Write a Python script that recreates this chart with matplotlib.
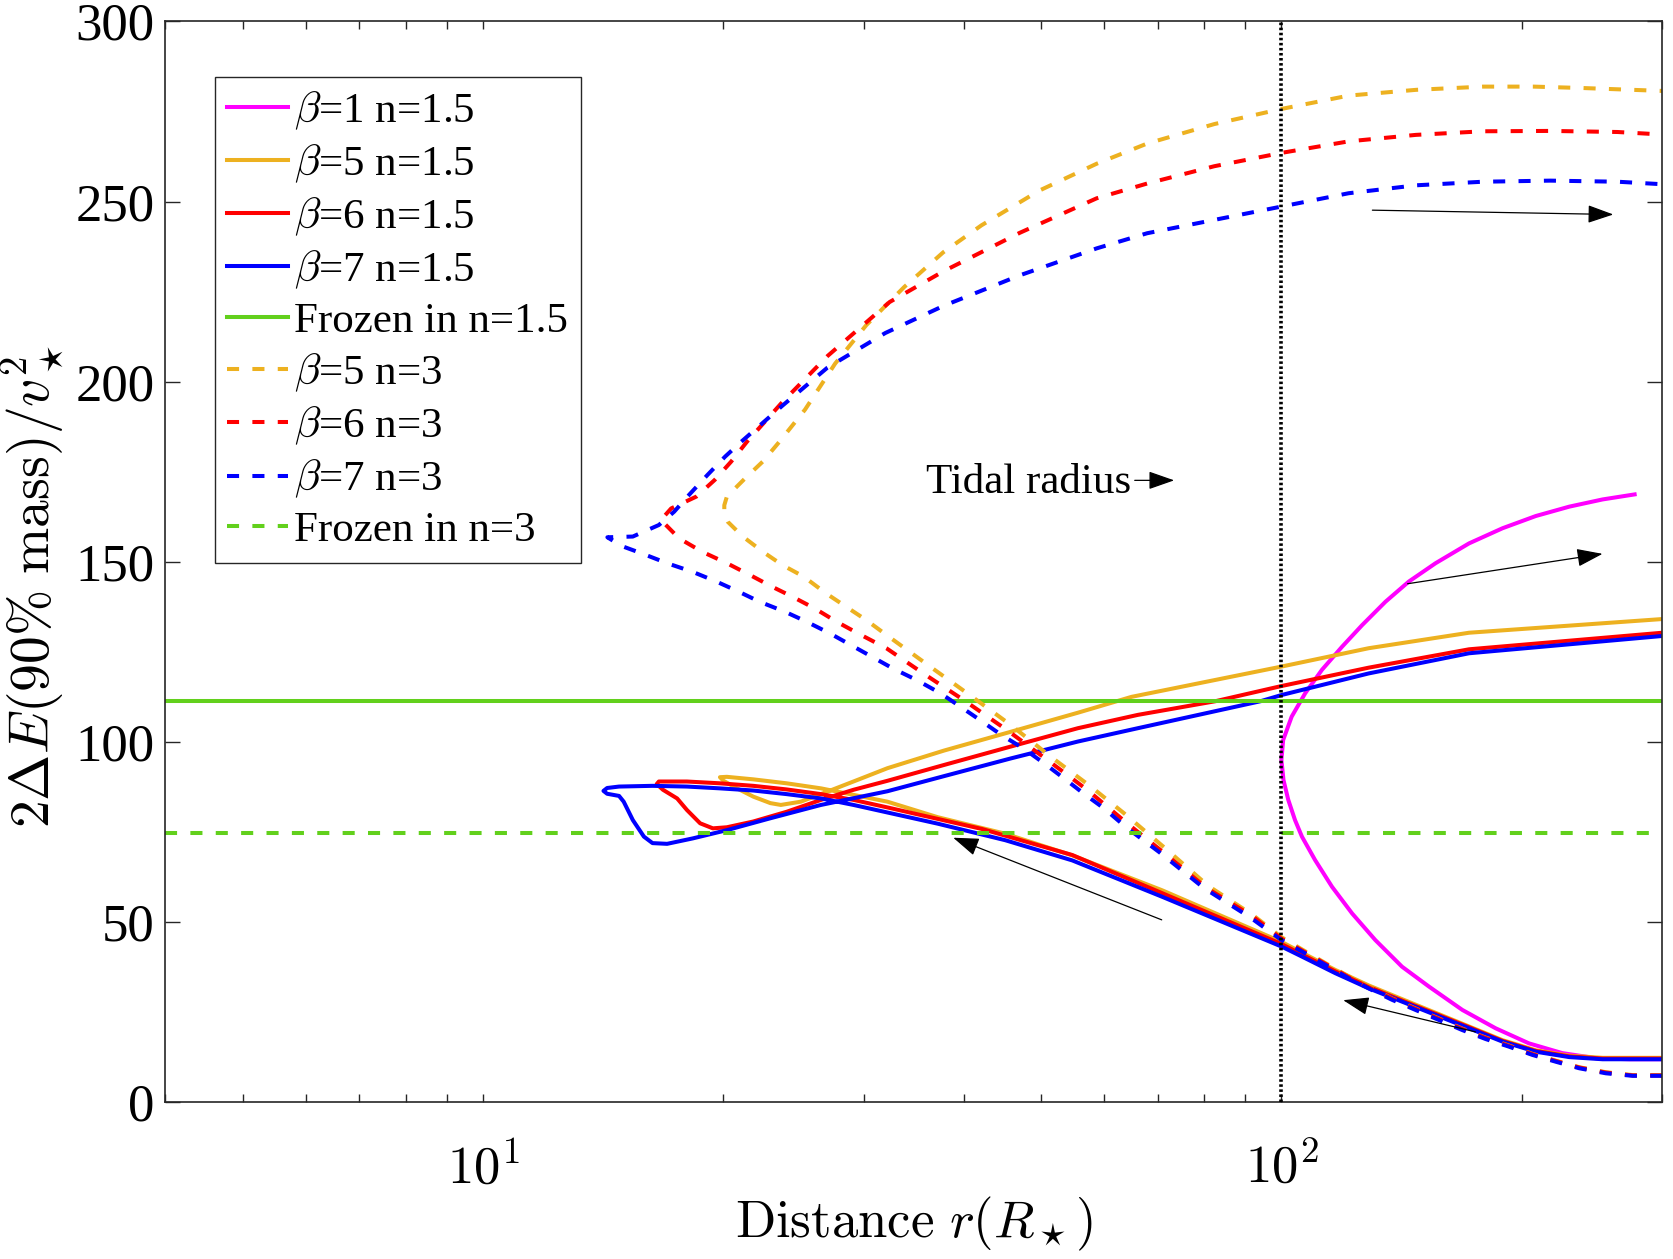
import matplotlib
matplotlib.use('Agg')
from matplotlib import pyplot as plt
from matplotlib.ticker import NullFormatter

plt.rcParams['font.family'] = ['Liberation Serif', 'DejaVu Serif']
plt.rcParams['mathtext.fontset'] = 'cm'

# Tidal radius and frozen-in energy levels
R_TIDAL = 100
FROZEN_N15 = 111.3
FROZEN_N3 = 74.6

# n=1.5 tracks (r in R_star, E = 2 dE / v^2): incoming branch, pericentre, outgoing branch
r_b1_n15 = [300, 272.9, 247.8, 224.9, 204.3, 185.5, 168.5, 153, 141.6, 131.1, 122.6, 115.7,
            110.2, 106.1, 104.0, 102.0, 100.6, 100, 100.5, 103, 107.1, 112.4, 119.1, 126.2, 135,
            144.4, 156, 171.8, 189.2, 208.3, 229.4, 252.5, 277]
e_b1_n15 = [11.9, 11.9, 12.2, 13.6, 16.3, 20.5, 25.6, 32.1, 37.6, 45.0, 52.4, 59.8,
            67.2, 73.7, 78.3, 83.9, 89.4, 95.0, 100.5, 107.0, 113.5, 120.0, 126.4, 132.4, 138.9,
            144.5, 149.6, 155.1, 159.3, 162.7, 165.3, 167.3, 168.7]

r_b5_n15 = [300, 252.6, 229.4, 208.3, 189.2, 171.8, 156, 141.6, 128.6, 116.8, 106.1, 100, 70.9,
            54.7, 45.1, 37.1, 32.1, 29.1, 26.5, 24.0, 21.8, 20.2, 19.8, 20.0, 20.8, 21.8, 22.9,
            23.6, 25.0, 27.0, 29.1, 32.1, 37.8, 45.8, 55.6, 64.9, 100, 128.6, 171.8, 300]
e_b5_n15 = [12.3, 12.3, 12.9, 14.4, 17.2, 21.0, 24.8, 28.6, 32.4, 36.7, 41.5, 44.5, 58.8,
            68.5, 74.5, 79.1, 83.4, 85.3, 87.1, 88.5, 89.6, 90.3, 90.2, 89.2, 87.1, 84.8, 83.0,
            82.5, 83.4, 86.2, 89.0, 92.7, 97.6, 102.8, 108.1, 112.5, 120.9, 126.0, 130.3, 134.1]

r_b6_n15 = [300, 252.6, 229.4, 208.3, 189.2, 171.8, 156, 141.6, 128.6, 116.8, 106.1, 100, 70.9,
            54.7, 42.2, 32.1, 29.1, 26.5, 24.0, 21.8, 19.8, 18.0, 16.6, 16.5, 16.8, 17.5, 18.0,
            18.7, 19.4, 20.2, 21.8, 24.0, 26.5, 29.1, 32.1, 37.8, 45.8, 55.6, 66.1, 82.7, 100,
            128.6, 171.8, 300]
e_b6_n15 = [12.1, 12.1, 12.7, 14.2, 17.0, 20.8, 24.5, 28.2, 32.0, 36.3, 41.0, 43.9, 58.0,
            68.6, 75.8, 81.8, 83.9, 85.5, 86.8, 87.8, 88.5, 89.0, 89.0, 88.3, 86.7, 84.3, 81.1,
            77.4, 76.0, 76.3, 77.9, 80.6, 83.9, 86.7, 89.2, 93.6, 98.7, 103.8, 107.5, 111.3, 115.5,
            120.6, 125.7, 130.3]

r_b7_n15 = [300, 252.6, 229.4, 208.3, 189.2, 171.8, 156, 141.6, 128.6, 116.8, 106.1, 100, 70.9,
            54.7, 45.1, 37.1, 32.1, 29.1, 26.5, 24.0, 21.8, 19.8, 18.0, 16.3, 14.8, 14.3, 14.15,
            14.3, 14.8, 15.0, 15.4, 15.9, 16.3, 17.0, 18.3, 20.2, 22.9, 26.5, 32.1, 37.8, 45.8,
            55.6, 66.1, 94.2, 100, 128.6, 171.8, 300]
e_b7_n15 = [11.9, 11.9, 12.5, 14.0, 16.8, 20.5, 24.2, 27.9, 31.6, 35.8, 40.4, 43.2, 57.0,
            67.1, 72.7, 77.3, 80.4, 82.5, 84.3, 85.5, 86.5, 87.1, 87.6, 87.8, 87.6, 87.2, 86.4,
            85.6, 85.0, 83.4, 78.3, 73.7, 71.9, 71.7, 73.2, 75.5, 78.8, 82.5, 86.3, 90.5, 95.4,
            100.1, 103.8, 111.3, 113.0, 119.0, 124.6, 129.4]

# n=3 tracks
r_b5_n3 = [300, 275.5, 255, 236.1, 220.8, 206.3, 192.8, 180.3, 168.5, 157.5, 147.2, 137.6,
           129.9, 121.4, 113.5, 106.1, 100, 92, 81, 71.5, 63.5, 57.7, 51.4, 45.8, 40.7, 36.3,
           32.0, 30.2, 28.5, 26.9, 25.2, 23.7, 22.4, 21.15, 20.25, 20.05, 20.05,
           20.2, 21.3, 22.4, 23.5, 25.3, 27.6, 30.2, 33.7, 37.7, 42.1, 49.7, 58.7, 67.9, 82.4,
           100, 121.4, 147.4, 178.9, 206.9, 239, 300]
e_b5_n3 = [7.5, 7.5, 8.3, 9.7, 11.5, 13.4, 15.7, 17.9, 20.4, 23.2, 26.0, 28.8,
           31.6, 34.9, 38.6, 42.4, 45.8, 52.0, 60.0, 70.5, 80.2, 87.6, 95.9, 104.7, 113.0, 120.9,
           129.7, 133.8, 137.5, 141.2, 145.9, 149.1, 152.8, 157.0, 161.1, 163.0, 165.7,
           168.1, 173.2, 177.8, 183.3, 192.2, 205.0, 215.7, 226.3, 235.9, 243.4, 253.0, 260.5,
           266.1, 271.5, 275.7, 279.4, 281.0, 281.9, 281.9, 281.5, 280.7]

r_b6_n3 = [300, 275.5, 255, 236.1, 220.8, 206.3, 192.8, 180.3, 168.5, 157.5, 147.2, 137.6,
           129.9, 121.4, 113.5, 106.1, 100, 92, 80.5, 71, 64, 57.1, 50.9, 45.3, 40.0, 35.6,
           32.0, 29.5, 27.7, 26.0, 24.4, 23.0, 21.6, 20.2, 18.8, 17.6, 16.7,
           17.2, 18.5, 19.5, 20.45, 21.4, 23.7, 27.0, 32.3, 37.7, 47.0, 58.7, 67.9, 82.4, 100,
           121.4, 147.4, 178.9, 217.2, 263.6, 300]
e_b6_n3 = [7.4, 7.4, 8.2, 9.6, 11.4, 13.3, 15.6, 17.8, 20.3, 23.1, 25.9, 28.7,
           31.4, 34.7, 38.4, 42.1, 45.4, 51.6, 59.5, 69.5, 77.5, 86.7, 95.0, 103.3, 111.6, 119.0,
           126.0, 130.1, 133.4, 137.1, 140.3, 143.1, 146.3, 149.6, 152.8, 156.5, 161.6,
           164.8, 168.1, 172.7, 177.8, 183.3, 194.3, 207.1, 222.1, 230.6, 241.3, 250.9, 255.0,
           259.8, 263.5, 266.7, 268.5, 269.5, 269.6, 269.3, 268.6]

r_b7_n3 = [300, 275.5, 255, 236.1, 220.8, 206.3, 192.8, 180.3, 168.5, 157.5, 147.2, 137.6,
           129.9, 121.4, 113.5, 106.1, 100, 91.5, 80, 70.3, 63.9, 59.9, 56.5, 53.4, 50.4, 47.5,
           44.6, 41.9, 39.6, 37.4, 34.9, 32.6, 27.2, 25.4, 23.9, 22.2, 20.9, 19.6, 18.3, 17.0,
           15.9, 14.9, 14.31,
           15.4, 15.8, 16.6, 17.35, 18.1, 19.1, 20.1, 21.05, 23.7, 27.0, 31.9, 37.7, 47.0, 58.7,
           67.9, 82.4, 100, 121.4, 147.4, 178.9, 217.2, 263.6, 300]
e_b7_n3 = [7.3, 7.3, 8.0, 9.4, 11.2, 13.1, 15.4, 17.5, 20.0, 22.8, 25.6, 28.4,
           31.1, 34.4, 38.1, 41.8, 45.0, 51.2, 59.4, 69.4, 76.3, 81.6, 85.7, 89.9, 94.1, 98.2,
           101.9, 106.1, 109.8, 113.5, 117.2, 120.4, 130.1, 133.4, 136.1, 138.9, 141.7, 144.5,
           147.2, 149.6, 152.1, 154.4, 156.8,
           157.0, 158.1, 160.2, 163.9, 168.5, 174.1, 179.2, 183.3, 193.3, 203.9, 213.5, 221.0,
           229.5, 237.0, 241.2, 244.9, 248.6, 252.3, 254.5, 255.5, 255.8, 255.5, 254.8]

MAGENTA = '#FF00FF'
ORANGE = '#EDB120'
RED = '#FF0000'
BLUE = '#0000FF'
GREEN = '#62D01C'
LW = 2.9
DASH = (0, (3.0, 3.3))

fig = plt.figure(figsize=(16.73, 12.59), dpi=100)
ax = fig.add_axes([0.0989, 0.1246, 0.8947, 0.8584])

ax.plot(r_b1_n15, e_b1_n15, color=MAGENTA, lw=LW, label=r'$\beta$=1 n=1.5')
ax.plot(r_b5_n15, e_b5_n15, color=ORANGE, lw=LW, label=r'$\beta$=5 n=1.5')
ax.plot(r_b6_n15, e_b6_n15, color=RED, lw=LW, label=r'$\beta$=6 n=1.5')
ax.plot(r_b7_n15, e_b7_n15, color=BLUE, lw=LW, label=r'$\beta$=7 n=1.5')
ax.axhline(FROZEN_N15, color=GREEN, lw=LW, label='Frozen in n=1.5')
ax.plot(r_b5_n3, e_b5_n3, color=ORANGE, lw=LW, ls=DASH, label=r'$\beta$=5 n=3')
ax.plot(r_b6_n3, e_b6_n3, color=RED, lw=LW, ls=DASH, label=r'$\beta$=6 n=3')
ax.plot(r_b7_n3, e_b7_n3, color=BLUE, lw=LW, ls=DASH, label=r'$\beta$=7 n=3')
ax.axhline(FROZEN_N3, color=GREEN, lw=LW, ls=DASH, label='Frozen in n=3')
ax.axvline(R_TIDAL, color='k', lw=2.6, ls=(0, (0.7, 0.7)), zorder=5)

ax.set_xscale('log')
ax.set_xlim(4, 300)
ax.set_ylim(0, 300)
ax.set_yticks(range(0, 301, 50))
ax.set_xticks([10, 100])
ax.set_xticklabels([r'$10^1$', r'$10^2$'])
ax.xaxis.set_minor_formatter(NullFormatter())
ax.tick_params(which='both', direction='in', top=True, right=True, labelsize=38,
               color='#262626', width=1.0)
ax.tick_params(axis='x', which='both', length=6, pad=30)
ax.tick_params(axis='y', which='both', length=11, pad=8)
for sp in ax.spines.values():
    sp.set_color('#262626')
    sp.set_linewidth(1.2)

ax.set_xlabel(r'$\mathrm{Distance}\ r(R_\star)$', fontsize=38, labelpad=0)
ax.set_ylabel(r'$2\Delta E(90\%\ \mathrm{mass})/v_\star^2$', fontsize=40)
ax.yaxis.set_label_coords(-0.066, 0.477)

# annotations
ax.text(35.9, 172, 'Tidal radius', fontsize=31, ha='left', va='center')
arrow = dict(arrowstyle='-|>,head_length=1.0,head_width=0.35', color='k', lw=0.9,
             mutation_scale=16, shrinkA=0, shrinkB=0)
ax.annotate('', xy=(73.4, 172.6), xytext=(65.5, 172.6), arrowprops=arrow)
ax.annotate('', xy=(260.5, 246.4), xytext=(130, 247.6), arrowprops=arrow)
ax.annotate('', xy=(252.5, 152.2), xytext=(143.9, 143.9), arrowprops=arrow)
ax.annotate('', xy=(38.8, 73.4), xytext=(70.8, 50.6), arrowprops=arrow)
ax.annotate('', xy=(119.5, 28.3), xytext=(175, 19.5), arrowprops=arrow)

leg = ax.legend(loc='upper left', bbox_to_anchor=(0.0328, 0.9487), borderaxespad=0,
                fontsize=31, handlelength=1.4, handletextpad=0.15, labelspacing=0.25,
                borderpad=0.3, frameon=True, fancybox=False, framealpha=1)
leg.get_frame().set_edgecolor('#262626')
leg.get_frame().set_linewidth(1.0)

plt.savefig('out.png')
